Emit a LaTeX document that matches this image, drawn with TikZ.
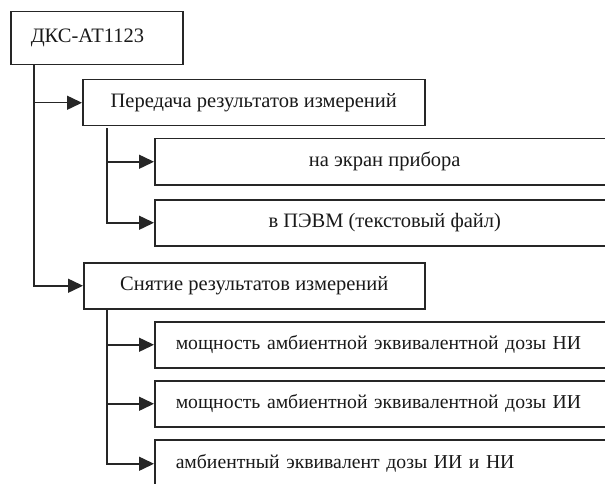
\documentclass[tikz,border=0pt]{standalone}
\usepackage{fontspec}
\setmainfont{Liberation Serif}
\usetikzlibrary{arrows.meta}
\begin{document}
\begin{tikzpicture}[x=1pt,y=-1pt,
  box/.style={draw=black!85,line width=1.5pt,rectangle,anchor=north west,inner sep=0pt,
    font=\fontsize{20.5}{24}\selectfont,text=black!90},
  cbox/.style={box,minimum height=46pt,align=center},
  lbox/.style={box,minimum height=46pt,align=left,font=\fontsize{19.7}{23}\selectfont},
  arr/.style={draw=black!85,line width=1.5pt,-{Triangle[length=15pt,width=14pt]}}]
\useasboundingbox (0,0) rectangle (605,484);
\clip (0,0) rectangle (605,484);
\node[box,minimum width=172pt,minimum height=53pt,text width=132pt,inner xsep=20pt,align=left] (root) at (10,11) {ДКС-АТ1123};
\node[cbox,minimum width=342pt] (p1) at (82,79) {Передача результатов измерений};
\node[cbox,minimum width=460pt] (a1) at (154,138) {на экран прибора};
\node[cbox,minimum width=460pt] (a2) at (154,199) {в ПЭВМ (текстовый файл)};
\node[cbox,minimum width=341pt] (p2) at (83,262) {Снятие результатов измерений};
\node[lbox,text width=520pt,inner xsep=21pt] (b1) at (154,321) {мощность амбиентной эквивалентной дозы НИ};
\node[lbox,text width=520pt,inner xsep=21pt] (b2) at (154,380) {мощность амбиентной эквивалентной дозы ИИ};
\node[lbox,text width=520pt,inner xsep=21pt,minimum height=48pt] (b3) at (154,439) {амбиентный эквивалент дозы ИИ и НИ};
\draw[arr] ([xshift=24pt]root.south west) |- (p1.west);
\draw[arr] ([xshift=24pt]root.south west) |- (p2.west);
\draw[arr] ([xshift=25pt,yshift=-2pt]p1.south west) |- (a1.west);
\draw[arr] ([xshift=25pt,yshift=-2pt]p1.south west) |- (a2.west);
\draw[arr] ([xshift=24pt]p2.south west) |- (b1.west);
\draw[arr] ([xshift=24pt]p2.south west) |- (b2.west);
\draw[arr] ([xshift=24pt]p2.south west) |- (b3.west);
\end{tikzpicture}
\end{document}
